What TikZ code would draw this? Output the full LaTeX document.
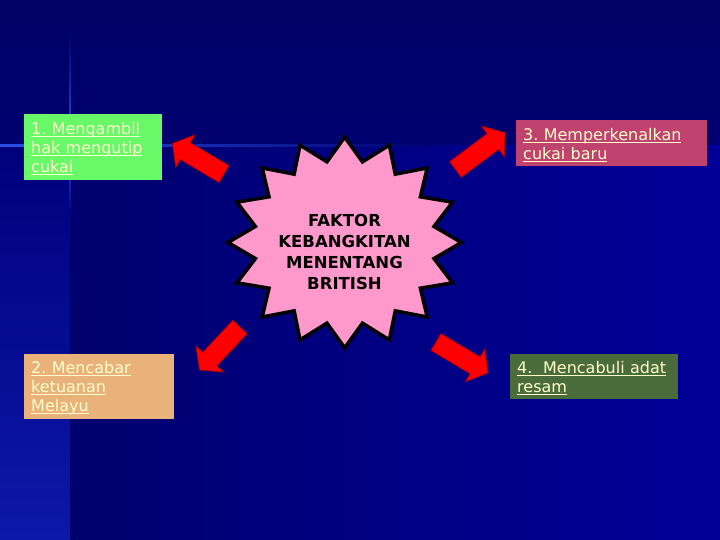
\documentclass[tikz,border=0pt]{standalone}
\usepackage{fontspec}
\setmainfont{DejaVu Sans}
\usetikzlibrary{calc}
\frenchspacing
\definecolor{bgtop}{RGB}{0,0,102}
\definecolor{bgtopb}{RGB}{0,0,112}
\definecolor{bglowl}{RGB}{0,0,110}
\definecolor{bglowr}{RGB}{0,0,152}
\definecolor{bgstripa}{RGB}{0,0,124}
\definecolor{bgstripb}{RGB}{12,24,168}
\definecolor{glow}{RGB}{40,80,230}
\definecolor{boxgreen}{RGB}{104,248,104}
\definecolor{boxpink}{RGB}{192,66,110}
\definecolor{boxtan}{RGB}{232,178,122}
\definecolor{boxolive}{RGB}{74,108,58}
\definecolor{cream}{RGB}{255,255,204}
\definecolor{starpink}{RGB}{255,153,204}
\definecolor{arrowred}{RGB}{255,0,0}
\definecolor{arrowedge}{RGB}{170,0,0}
\newcommand\uln[1]{\leavevmode\setbox0\hbox{#1}\rlap{\rule[-2.6pt]{\wd0}{1pt}}\box0}
\newcommand\firststrut{\rule{0pt}{15.5pt}}
\tikzset{
  factorbox/.style={draw=none, rectangle, anchor=north west, align=left,
    inner xsep=7pt, inner ysep=0pt, text=cream,
    font=\fontsize{16}{19}\selectfont},
  bigarrow/.style={fill=arrowred, draw=arrowedge, line width=0.7pt, line join=miter},
  starshape/.style={fill=starpink, draw=black, line width=3.5pt, line join=miter},
  startext/.style={align=center, inner sep=0pt, text=black,
    font=\bfseries\fontsize{16.5}{21}\selectfont}
}
\newcommand\fatarrow[3]{%
  \coordinate (#1h) at ($(#3)!15pt!(#2)$);
  \draw[bigarrow] ($(#2)!9.8pt!90:(#3)$) -- ($(#1h)!9.8pt!90:(#3)$)
    -- ($(#1h)!19pt!90:(#3)$) -- (#3) -- ($(#1h)!19pt!-90:(#3)$)
    -- ($(#1h)!9.8pt!-90:(#3)$) -- ($(#2)!9.8pt!-90:(#3)$) -- cycle;
}
\begin{document}
\begin{tikzpicture}[x=1pt,y=-1pt]
\useasboundingbox (0,0) rectangle (720,540);
% background
\shade[top color=bgtop, bottom color=bgtopb] (0,0) rectangle (720,146);
\shade[left color=bglowl, right color=bglowr] (70,146) rectangle (720,540);
\shade[top color=bgstripa, bottom color=bgstripb] (0,146) rectangle (70,540);
\shade[left color=glow, right color=bgtopb] (0,144.8) rectangle (430,146.8);
\shade[top color=bgtop, bottom color=glow] (69,30) rectangle (71.2,146);
\shade[top color=glow, bottom color=bgstripa] (69,146) rectangle (71.2,215);

% boxes
\node[factorbox, fill=boxgreen, minimum width=138pt, minimum height=66pt, text width=124pt]
  (b1) at (24,114) {\firststrut\uln{1. Mengambil}\\\uln{hak mengutip}\\\uln{cukai}};
\node[factorbox, fill=boxtan, minimum width=150pt, minimum height=65pt, text width=136pt]
  (b2) at (24,354) {\firststrut\uln{2. Mencabar}\\\uln{ketuanan}\\\uln{Melayu}};
\node[factorbox, fill=boxpink, minimum width=191pt, minimum height=46pt, text width=177pt]
  (b3) at (516,120) {\firststrut\uln{3. Memperkenalkan}\\\uln{cukai baru}};
\node[factorbox, fill=boxolive, minimum width=168pt, minimum height=45pt, text width=154pt]
  (b4) at (510,354) {\firststrut\uln{4.\ \ Mencabuli adat}\\\uln{resam}};

% central star
\coordinate (c) at (344.7,242.5);
\draw[starshape] ($(c)+(0,-105.4)$)
  \foreach \k [evaluate=\k as \r using {mod(\k,2)==0 ? 1 : 0.78}] in {1,...,31} {
    -- ($(c)+({116.7*\r*sin(\k*11.25)},{-105.4*\r*cos(\k*11.25)})$)
  } -- cycle;
\node[startext] (centre) at (344.5,251.7) {FAKTOR\\KEBANGKITAN\\MENENTANG\\BRITISH};

% arrows
\coordinate (a1t) at (224,174); \coordinate (a1p) at (172.5,143.5);
\coordinate (a2t) at (240,327); \coordinate (a2p) at (199.5,370);
\coordinate (a3t) at (455.5,169.5); \coordinate (a3p) at (505,132.5);
\coordinate (a4t) at (436,342); \coordinate (a4p) at (488,373);
\fatarrow{a1}{a1t}{a1p}
\fatarrow{a2}{a2t}{a2p}
\fatarrow{a3}{a3t}{a3p}
\fatarrow{a4}{a4t}{a4p}
\end{tikzpicture}
\end{document}
